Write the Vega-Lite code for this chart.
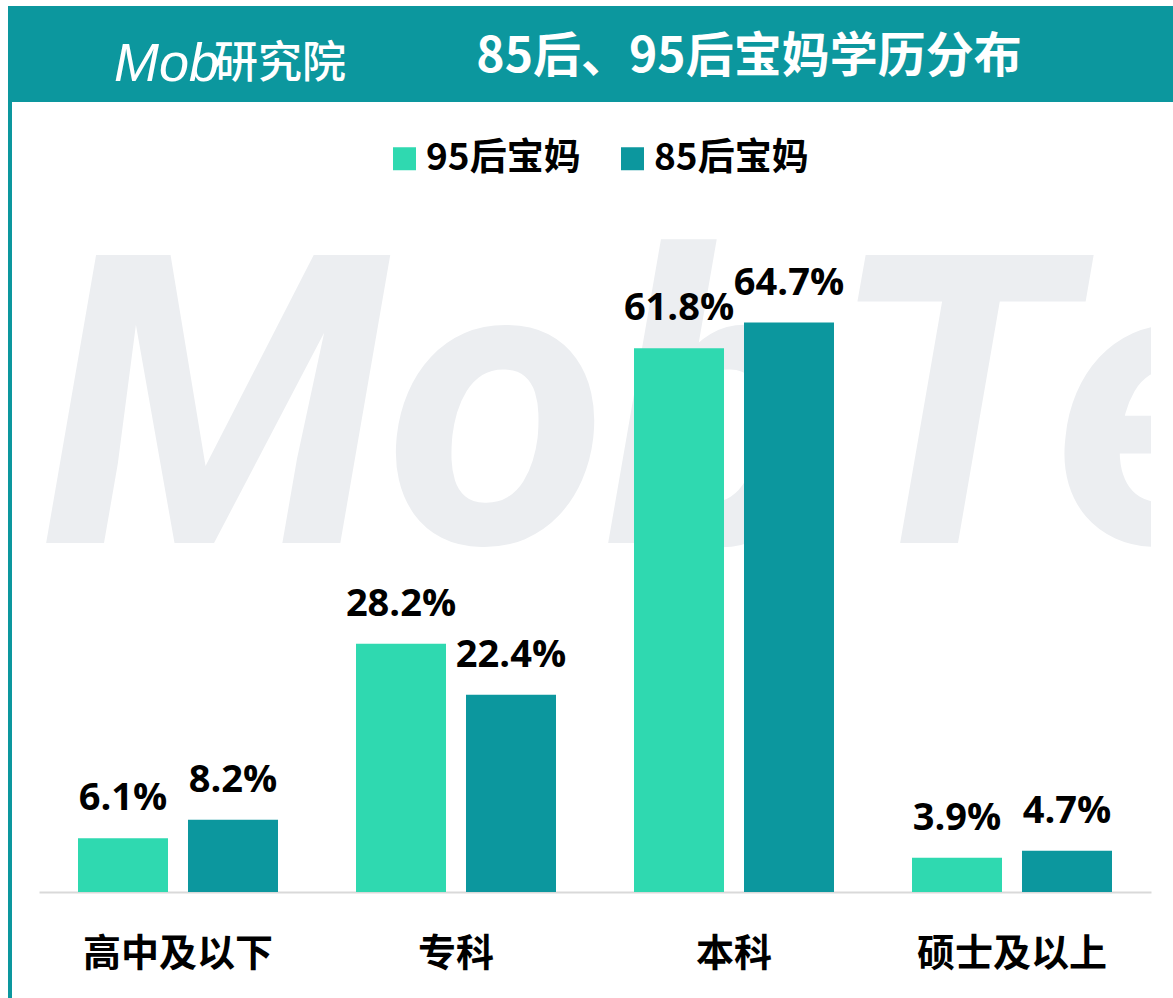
{
  "$schema": "https://vega.github.io/schema/vega-lite/v6.json",
  "padding": {"left": 8, "top": 6, "right": 0, "bottom": 0},
  "background": "white",
  "config": {"view": {"stroke": null}},
  "spacing": 0,
  "vconcat": [
    {
      "width": 1165,
      "height": 96,
      "view": {"fill": "#0c979e", "stroke": null},
      "data": {"values": [{"t": "85后、95后宝妈学历分布"}]},
      "layer": [
        {
          "mark": {"type": "text", "x": 741, "y": 52, "align": "center", "baseline": "middle", "fontSize": 48, "fontWeight": "bold", "font": "Noto Sans CJK SC", "fill": "white"},
          "encoding": {"text": {"field": "t"}}
        },
        {
          "data": {"values": [{"a": "Mob"}]},
          "mark": {"type": "text", "x": 106, "y": 75, "align": "left", "baseline": "alphabetic", "fontSize": 54, "fontStyle": "italic", "font": "Liberation Sans", "fill": "white"},
          "encoding": {"text": {"field": "a"}}
        },
        {
          "data": {"values": [{"a": "研究院"}]},
          "mark": {"type": "text", "x": 206, "y": 72, "align": "left", "baseline": "alphabetic", "fontSize": 44, "font": "Noto Sans CJK SC", "fontWeight": 500, "fill": "white"},
          "encoding": {"text": {"field": "a"}}
        }
      ]
    },
    {
      "spacing": 27,
      "hconcat": [
        {
          "width": 4,
          "height": 896,
          "view": {"fill": "#0c979e", "stroke": null},
          "data": {"values": []},
          "mark": "rect",
          "encoding": {}
        },
        {
          "width": 1112,
          "height": 790,
          "data": {
            "values": [
              {"edu": "高中及以下", "group": "95后宝妈", "value": 0.061},
              {"edu": "高中及以下", "group": "85后宝妈", "value": 0.082},
              {"edu": "专科", "group": "95后宝妈", "value": 0.282},
              {"edu": "专科", "group": "85后宝妈", "value": 0.224},
              {"edu": "本科", "group": "95后宝妈", "value": 0.618},
              {"edu": "本科", "group": "85后宝妈", "value": 0.647},
              {"edu": "硕士及以上", "group": "95后宝妈", "value": 0.039},
              {"edu": "硕士及以上", "group": "85后宝妈", "value": 0.047}
            ]
          },
          "layer": [
            {
              "data": {"values": [{"wm": "MobTech"}]},
              "mark": {"type": "text", "x": 3, "y": 441, "align": "left", "baseline": "alphabetic", "fontSize": 405, "font": "Roboto", "fontWeight": "bold", "fontStyle": "italic", "fill": "#eceef1", "clip": true},
              "encoding": {"text": {"field": "wm"}}
            },
            {
              "mark": {"type": "bar"},
              "encoding": {
                "x": {
                  "field": "edu", "type": "nominal",
                  "sort": ["高中及以下", "专科", "本科", "硕士及以上"],
                  "scale": {"paddingInner": 0.2806, "paddingOuter": 0.1403},
                  "axis": {"title": null, "domainColor": "#d9d9d9", "domainWidth": 2, "ticks": false, "labelAngle": 0, "labelFontSize": 38, "labelFont": "Noto Sans CJK SC", "labelFontWeight": "bold", "labelColor": "black", "labelPadding": 62, "labelBaseline": "middle", "labelLimit": 0, "grid": false}
                },
                "xOffset": {"field": "group", "type": "nominal", "sort": ["95后宝妈", "85后宝妈"], "scale": {"paddingInner": 0.1818, "paddingOuter": 0}},
                "y": {"field": "value", "type": "quantitative", "scale": {"domain": [0, 0.8977], "nice": false}, "axis": null},
                "color": {
                  "field": "group", "type": "nominal", "sort": ["95后宝妈", "85后宝妈"],
                  "scale": {"domain": ["95后宝妈", "85后宝妈"], "range": ["#2fd9b0", "#0c979e"]},
                  "legend": {"title": null, "orient": "none", "legendX": 378, "legendY": 134, "direction": "horizontal", "symbolType": "square", "symbolSize": 529, "symbolStrokeWidth": 0, "symbolOpacity": 1, "labelFontSize": 37, "labelFont": "Noto Sans CJK SC", "labelFontWeight": "bold", "labelColor": "black", "labelOffset": 3, "columnPadding": 33}
                }
              }
            },
            {
              "mark": {"type": "text", "baseline": "alphabetic", "align": "center", "dy": -28, "fontSize": 38, "font": "Open Sans", "fontWeight": "bold", "fill": "black"},
              "encoding": {
                "x": {"field": "edu", "type": "nominal", "sort": ["高中及以下", "专科", "本科", "硕士及以上"]},
                "xOffset": {"field": "group", "type": "nominal", "sort": ["95后宝妈", "85后宝妈"]},
                "y": {"field": "value", "type": "quantitative"},
                "text": {"field": "value", "type": "quantitative", "format": ".1%"}
              }
            }
          ]
        }
      ]
    }
  ]
}
